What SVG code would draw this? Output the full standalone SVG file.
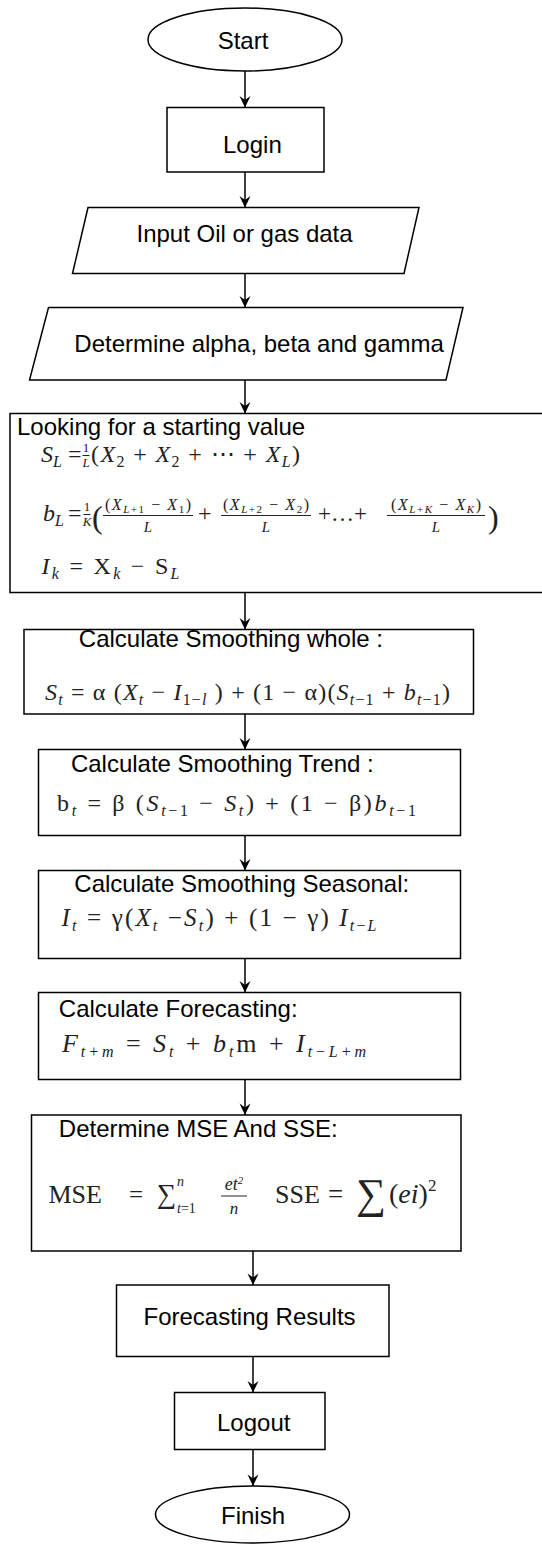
<svg xmlns="http://www.w3.org/2000/svg" width="542" height="1544" viewBox="0 0 542 1544">
<defs>
<style>
.shape{fill:#fff;stroke:#000;stroke-width:1.5}
.lbl{font-family:"Liberation Sans",Arial,sans-serif;font-size:24px;fill:#000}
.f{font-family:"Liberation Serif","Times New Roman",serif;font-size:24px;fill:#222}
.it{font-style:italic}
.sb{font-size:16px}
.sm{font-size:13px}
.nm{font-size:16px}
.ns{font-size:11px}
.dn{font-size:15px}
.conn line{stroke:#000;stroke-width:1.5}
.bar{stroke:#222;stroke-width:1}
</style>
<marker id="ah" viewBox="0 0 12 12" markerWidth="12" markerHeight="12" refX="12" refY="6" orient="auto" markerUnits="userSpaceOnUse">
<path d="M0.5,0.5 L12,6 L0.5,11.5 L4.5,6 Z" fill="#000"/>
</marker>
</defs>
<rect width="542" height="1544" fill="#fff"/>

<g id="start">
<ellipse class="shape" cx="245" cy="39.5" rx="97" ry="31.5"/>
<text class="lbl" x="243" y="49.3" text-anchor="middle">Start</text>
</g>
<g id="login">
<rect class="shape" x="167" y="107.5" width="157" height="64.5"/>
<text class="lbl" x="223" y="153.3">Login</text>
</g>
<g id="input">
<polygon class="shape" points="88,207.5 419,207.5 404,273.5 72.5,273.5"/>
<text class="lbl" x="136.5" y="241.7">Input Oil or gas data</text>
</g>
<g id="params">
<polygon class="shape" points="48.5,307.5 463,307.5 446,380 29.5,380"/>
<text class="lbl" x="74.3" y="351.7">Determine alpha, beta and gamma</text>
</g>
<g id="init">
<rect class="shape" x="10" y="413.5" width="540" height="179"/>
<text class="lbl" x="17" y="435">Looking for a starting value</text>
<text class="f it" x="41" y="462">S<tspan class="sb" dy="5">L</tspan></text>
<text class="f" x="68" y="462">=</text>
<text class="f sm" x="86" y="452" text-anchor="middle">1</text>
<line class="bar" x1="82.5" y1="455.5" x2="89.5" y2="455.5"/>
<text class="f sm it" x="86" y="467" text-anchor="middle">L</text>
<text class="f" x="91" y="462" textLength="209"><tspan>(</tspan><tspan class="it">X</tspan><tspan class="sb" dy="5">2</tspan><tspan dy="-5"> + </tspan><tspan class="it">X</tspan><tspan class="sb" dy="5">2</tspan><tspan dy="-5"> + ⋯ + </tspan><tspan class="it">X</tspan><tspan class="sb it" dy="5">L</tspan><tspan dy="-5">)</tspan></text>

<text class="f it" x="43" y="521">b<tspan class="sb" dy="5">L</tspan></text>
<text class="f" x="68" y="521">=</text>
<text class="f sm" x="87" y="511" text-anchor="middle">1</text>
<line class="bar" x1="83.5" y1="514.5" x2="90.5" y2="514.5"/>
<text class="f sm it" x="87" y="526" text-anchor="middle">K</text>
<text class="f" x="92" y="528" style="font-size:32px">(</text>
<text class="f nm" x="148" y="510" text-anchor="middle" textLength="86">(<tspan class="it">X</tspan><tspan class="ns" dy="3"><tspan class="it">L</tspan>+1</tspan><tspan dy="-3"> − </tspan><tspan class="it">X</tspan><tspan class="ns" dy="3">1</tspan><tspan dy="-3">)</tspan></text>
<line class="bar" x1="103" y1="515.5" x2="193" y2="515.5"/>
<text class="f dn it" x="148" y="532" text-anchor="middle">L</text>
<text class="f" x="198" y="521">+</text>
<text class="f nm" x="266" y="510" text-anchor="middle" textLength="86">(<tspan class="it">X</tspan><tspan class="ns" dy="3"><tspan class="it">L</tspan>+2</tspan><tspan dy="-3"> − </tspan><tspan class="it">X</tspan><tspan class="ns" dy="3">2</tspan><tspan dy="-3">)</tspan></text>
<line class="bar" x1="221" y1="515.5" x2="311" y2="515.5"/>
<text class="f dn it" x="266" y="532" text-anchor="middle">L</text>
<text class="f" x="318" y="521" style="font-size:23px">+…+</text>
<text class="f nm" x="436" y="510" text-anchor="middle" textLength="90">(<tspan class="it">X</tspan><tspan class="ns" dy="3"><tspan class="it">L</tspan>+<tspan class="it">K</tspan></tspan><tspan dy="-3"> − </tspan><tspan class="it">X</tspan><tspan class="ns it" dy="3">K</tspan><tspan dy="-3">)</tspan></text>
<line class="bar" x1="387" y1="515.5" x2="485" y2="515.5"/>
<text class="f dn it" x="436" y="532" text-anchor="middle">L</text>
<text class="f" x="488" y="528" style="font-size:32px">)</text>

<text class="f" x="41.5" y="574" textLength="138"><tspan class="it">I</tspan><tspan class="sb it" dy="5">k</tspan><tspan dy="-5"> = X</tspan><tspan class="sb it" dy="5">k</tspan><tspan dy="-5"> − S</tspan><tspan class="sb it" dy="5">L</tspan></text>
</g>
<g id="level">
<rect class="shape" x="24" y="629.5" width="449.5" height="84.5"/>
<text class="lbl" x="78.8" y="647.3">Calculate Smoothing whole :</text>
<text class="f" x="45" y="700" textLength="405"><tspan class="it">S</tspan><tspan class="sb it" dy="5">t</tspan><tspan dy="-5"> = α (</tspan><tspan class="it">X</tspan><tspan class="sb it" dy="5">t</tspan><tspan dy="-5"> − </tspan><tspan class="it">I</tspan><tspan class="sb" dy="5">1−<tspan class="it">l</tspan></tspan><tspan dy="-5"> ) + (1 − α)(</tspan><tspan class="it">S</tspan><tspan class="sb" dy="5"><tspan class="it">t</tspan>−1</tspan><tspan dy="-5"> + </tspan><tspan class="it">b</tspan><tspan class="sb" dy="5"><tspan class="it">t</tspan>−1</tspan><tspan dy="-5">)</tspan></text>
</g>
<g id="trend">
<rect class="shape" x="38.5" y="749.5" width="422" height="86"/>
<text class="lbl" x="70.9" y="771.7">Calculate Smoothing Trend :</text>
<text class="f" x="57" y="811" textLength="359"><tspan>b</tspan><tspan class="sb it" dy="5">t</tspan><tspan dy="-5"> = β (</tspan><tspan class="it">S</tspan><tspan class="sb" dy="5"><tspan class="it">t</tspan>−1</tspan><tspan dy="-5"> − </tspan><tspan class="it">S</tspan><tspan class="sb it" dy="5">t</tspan><tspan dy="-5">) + (1 − β)</tspan><tspan class="it">b</tspan><tspan class="sb" dy="5"><tspan class="it">t</tspan>−1</tspan></text>
</g>
<g id="season">
<rect class="shape" x="38.5" y="870.5" width="422" height="88"/>
<text class="lbl" x="74.3" y="891.7">Calculate Smoothing Seasonal:</text>
<text class="f" x="61.5" y="926" style="font-size:25px" textLength="315"><tspan class="it">I</tspan><tspan class="sb it" dy="5">t</tspan><tspan dy="-5"> = γ(</tspan><tspan class="it">X</tspan><tspan class="sb it" dy="5">t</tspan><tspan dy="-5"> −</tspan><tspan class="it">S</tspan><tspan class="sb it" dy="5">t</tspan><tspan dy="-5">) + (1 − γ) </tspan><tspan class="it">I</tspan><tspan class="sb" dy="5"><tspan class="it">t</tspan>−<tspan class="it">L</tspan></tspan></text>
</g>
<g id="forecast">
<rect class="shape" x="38.5" y="992.5" width="422" height="87"/>
<text class="lbl" x="58.8" y="1016.7">Calculate Forecasting:</text>
<text class="f" x="62" y="1052" style="font-size:26px" textLength="304"><tspan class="it">F</tspan><tspan class="sb it" dy="5">t+m</tspan><tspan dy="-5"> = </tspan><tspan class="it">S</tspan><tspan class="sb it" dy="5">t</tspan><tspan dy="-5"> + </tspan><tspan class="it">b</tspan><tspan class="sb it" dy="5">t</tspan><tspan dy="-5">m + </tspan><tspan class="it">I</tspan><tspan class="sb it" dy="5">t−L+m</tspan></text>
</g>
<g id="error">
<rect class="shape" x="31.5" y="1115" width="429.5" height="136"/>
<text class="lbl" x="58.8" y="1137.3">Determine MSE And SSE:</text>
<text class="f" x="48.4" y="1203" style="font-size:26px">MSE</text>
<text class="f" x="129" y="1203" style="font-size:25px">=</text>
<text class="f" x="157" y="1203" style="font-size:27px">∑</text>
<text class="f it" x="177" y="1186" style="font-size:14px">n</text>
<text class="f" x="177" y="1213" style="font-size:14px"><tspan class="it">t</tspan>=1</text>
<text class="f it" x="234" y="1190" text-anchor="middle" style="font-size:18px">et<tspan style="font-size:11px" dy="-6">2</tspan></text>
<line class="bar" x1="221" y1="1196" x2="247" y2="1196"/>
<text class="f it" x="234" y="1214" text-anchor="middle" style="font-size:17px">n</text>
<text class="f" x="275" y="1203" style="font-size:26px">SSE</text>
<text class="f" x="328" y="1203" style="font-size:27px">=</text>
<text class="f" x="356" y="1208" style="font-size:42px">∑</text>
<text class="f" x="389" y="1203" style="font-size:28px">(<tspan class="it">ei</tspan>)<tspan style="font-size:17px" dy="-12">2</tspan></text>
</g>
<g id="results">
<rect class="shape" x="116.5" y="1285" width="272.5" height="71.5"/>
<text class="lbl" x="143.5" y="1325">Forecasting Results</text>
</g>
<g id="logout">
<rect class="shape" x="174.5" y="1392.5" width="150.5" height="57"/>
<text class="lbl" x="217" y="1430.7">Logout</text>
</g>
<g id="finish">
<ellipse class="shape" cx="252.5" cy="1514.5" rx="97" ry="28.5"/>
<text class="lbl" x="221" y="1524">Finish</text>
</g>

<g id="connectors" class="conn">
<line x1="245" y1="71" x2="245" y2="107.5" marker-end="url(#ah)"/>
<line x1="245" y1="172" x2="245" y2="207.5" marker-end="url(#ah)"/>
<line x1="245" y1="273.5" x2="245" y2="307.5" marker-end="url(#ah)"/>
<line x1="245" y1="380" x2="245" y2="413.5" marker-end="url(#ah)"/>
<line x1="245" y1="592.5" x2="245" y2="629.5" marker-end="url(#ah)"/>
<line x1="245" y1="714" x2="245" y2="749.5" marker-end="url(#ah)"/>
<line x1="245" y1="835.5" x2="245" y2="870.5" marker-end="url(#ah)"/>
<line x1="245" y1="958.5" x2="245" y2="992.5" marker-end="url(#ah)"/>
<line x1="245" y1="1079.5" x2="245" y2="1115" marker-end="url(#ah)"/>
<line x1="253" y1="1251" x2="253" y2="1285" marker-end="url(#ah)"/>
<line x1="253" y1="1356.5" x2="253" y2="1392.5" marker-end="url(#ah)"/>
<line x1="253" y1="1449.5" x2="253" y2="1486" marker-end="url(#ah)"/>
</g>
</svg>
